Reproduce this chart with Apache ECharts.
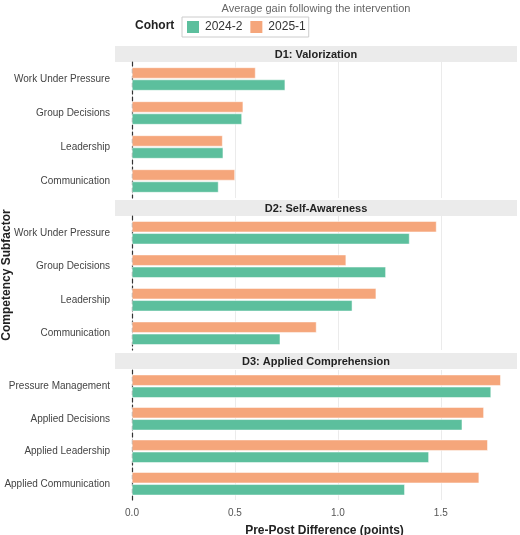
<!DOCTYPE html>
<html>
<head>
<meta charset="utf-8">
<script src="https://cdn.jsdelivr.net/npm/echarts@6/dist/echarts.min.js"></script>
<style>html,body{margin:0;padding:0;background:#fff}#chart{width:520px;height:535px}</style>
</head>
<body>
<div id="chart"></div>
<script>
// facet data
const panelTitles = ['D1: Valorization', 'D2: Self-Awareness', 'D3: Applied Comprehension'];
const d1Categories = ['Work Under Pressure', 'Group Decisions', 'Leadership', 'Communication'];
const d2Categories = ['Work Under Pressure', 'Group Decisions', 'Leadership', 'Communication'];
const d3Categories = ['Pressure Management', 'Applied Decisions', 'Applied Leadership', 'Applied Communication'];
const d1Cohort2024 = [0.744, 0.534, 0.443, 0.42];
const d1Cohort2025 = [0.60, 0.54, 0.44, 0.50];
const d2Cohort2024 = [1.348, 1.233, 1.070, 0.720];
const d2Cohort2025 = [1.479, 1.040, 1.186, 0.896];
const d3Cohort2024 = [1.744, 1.604, 1.442, 1.325];
const d3Cohort2025 = [1.791, 1.709, 1.728, 1.686];

const GREEN = '#5cbf9d', ORANGE = '#f5a67b';
const FONT = 'Liberation Sans, Arial, sans-serif';

const panels = [
    { cats: d1Categories, g: d1Cohort2024, o: d1Cohort2025, top: 62, height: 136, strip: 46 },
    { cats: d2Categories, g: d2Cohort2024, o: d2Cohort2025, top: 216, height: 134, strip: 200 },
    { cats: d3Categories, g: d3Cohort2024, o: d3Cohort2025, top: 370, height: 130, strip: 353 }
];

const chart = echarts.init(document.getElementById('chart'), null, { renderer: 'canvas' });

const grid = [], xAxis = [], yAxis = [], series = [], graphic = [];
panels.forEach((p, i) => {
    const last = i === panels.length - 1;
    grid.push({ left: 132, right: 3, top: p.top, height: p.height, outerBoundsMode: 'none', containLabel: false });
    xAxis.push({
        type: 'value', gridIndex: i, min: 0, max: 1.87, interval: 0.5,
        axisLine: { show: false }, axisTick: { show: false },
        axisLabel: { show: last, color: '#555', fontSize: 10, fontFamily: FONT, margin: 8,
            showMaxLabel: false, formatter: v => v.toFixed(1) },
        splitLine: { show: true, showMaxLine: false, lineStyle: { color: '#ebebeb', width: 1 } },
        name: last ? 'Pre-Post Difference (points)' : '',
        nameLocation: 'middle', nameGap: 25,
        nameTextStyle: { color: '#222', fontWeight: 'bold', fontSize: 12, fontFamily: FONT }
    });
    yAxis.push({
        type: 'category', gridIndex: i, data: p.cats, inverse: true,
        axisLine: { show: true, lineStyle: { color: '#333', type: [4, 3], width: 1.2 } },
        axisTick: { show: false },
        axisLabel: { color: '#444', fontSize: 10, fontFamily: FONT, margin: 22 },
        splitLine: { show: false }
    });
    series.push({
        name: '2025-1', type: 'bar', xAxisIndex: i, yAxisIndex: i, data: p.o,
        barWidth: 11, barGap: '10%', itemStyle: { color: ORANGE, borderColor: '#fff', borderWidth: 0.5 }
    });
    series.push({
        name: '2024-2', type: 'bar', xAxisIndex: i, yAxisIndex: i, data: p.g,
        barWidth: 11, barGap: '10%', itemStyle: { color: GREEN, borderColor: '#fff', borderWidth: 0.5 }
    });
    graphic.push({ type: 'rect', left: 115, top: p.strip, shape: { width: 402, height: 16 },
        style: { fill: '#ebebeb' }, silent: true });
    graphic.push({ type: 'text', x: 316, y: p.strip + 3, style: { text: panelTitles[i],
        align: 'center', fill: '#222', font: 'bold 11px ' + FONT }, silent: true });
});

graphic.push({ type: 'text', x: 316, y: 3, style: { text: 'Average gain following the intervention',
    align: 'center', fill: '#666', font: '11px ' + FONT } });
graphic.push({ type: 'text', x: 135, y: 20, style: { text: 'Cohort', fill: '#222', font: 'bold 12px ' + FONT } });
graphic.push({ type: 'text', x: 7, y: 275, rotation: Math.PI / 2,
    style: { text: 'Competency Subfactor', align: 'center', verticalAlign: 'middle', fill: '#222', font: 'bold 12px ' + FONT } });

const option = {
    animation: false,
    legend: {
        data: ['2024-2', '2025-1'], left: 182, top: 17,
        itemWidth: 14, itemHeight: 14, itemGap: 6, padding: [2, 3],
        borderColor: '#ccc', borderWidth: 1, borderRadius: 0,
        textStyle: { color: '#333', fontSize: 12, fontFamily: FONT },
        icon: 'rect'
    },
    grid, xAxis, yAxis, series, graphic
};
chart.setOption(option);
</script>
</body>
</html>
